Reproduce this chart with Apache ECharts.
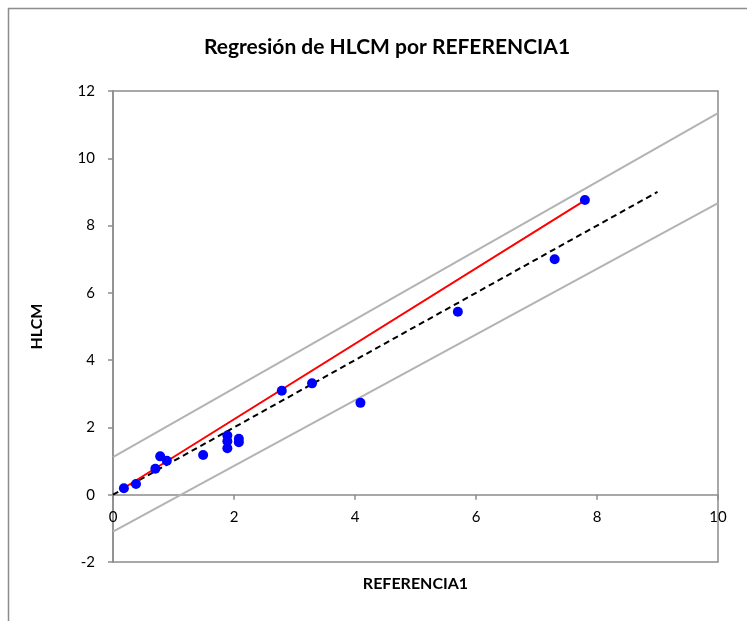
<!DOCTYPE html>
<html>
<head>
<meta charset="utf-8">
<script src="https://cdn.jsdelivr.net/npm/echarts@6/dist/echarts.min.js"></script>
<style>html,body{margin:0;padding:0;background:#fff;}#c{width:747px;height:621px;}</style>
</head>
<body>
<div id="c"></div>
<script>
var titleText = 'Regresión de HLCM por REFERENCIA1';
var xName = 'REFERENCIA1';
var yName = 'HLCM';
var obsX = [0.18,0.38,0.70,0.78,0.89,1.49,1.89,1.89,1.89,2.08,2.08,2.79,3.29,4.09,5.70,7.30,7.80];
var obsY = [0.19,0.32,0.77,1.14,1.01,1.18,1.76,1.59,1.38,1.66,1.56,3.09,3.31,2.73,5.44,7.00,8.76];
var fitX = [0.18, 7.80];
var fitY = [0.20, 8.75];
var idX = [0, 9];
var idY = [0, 9];
var upX = [0, 10];
var upY = [1.12, 11.34];
var loX = [0, 10];
var loY = [-1.10, 8.67];
var xTicks = [0,2,4,6,8,10];
var yTicks = [-2,0,2,4,6,8,10,12];

function pairs(a,b){ return a.map(function(v,i){ return [v,b[i]]; }); }
var FONT = 'Lato';
var chart = echarts.init(document.getElementById('c'));
chart.setOption({
  animation:false,
  backgroundColor:'#fff',
  title:{text:titleText,left:382,top:32,textAlign:'center',
    textStyle:{fontFamily:FONT,fontSize:21,fontWeight:'bold',color:'#000'}},
  graphic:[{type:'rect',shape:{x:8.5,y:8.5,width:800,height:700},
    style:{fill:'none',stroke:'#8c8c8c',lineWidth:1.5},silent:true}],
  grid:{left:113,top:91,right:29,bottom:59,show:true,borderColor:'#8c8c8c',borderWidth:1.5,
    containLabel:false,outerBoundsMode:'none'},
  xAxis:{type:'value',min:0,max:10,interval:2,
    name:xName,nameLocation:'middle',nameGap:14,nameMoveOverlap:false,
    nameTextStyle:{fontFamily:FONT,fontSize:16,fontWeight:'bold',color:'#000',verticalAlign:'top'},
    axisLine:{onZero:true,lineStyle:{color:'#8c8c8c',width:1.5}},
    axisTick:{show:true,length:5,lineStyle:{color:'#8c8c8c',width:1.5}},
    axisLabel:{fontFamily:FONT,fontSize:15,color:'#000',margin:-52,
      formatter:function(v){return xTicks.indexOf(v)>=0?String(v):'';}},
    splitLine:{show:false}},
  yAxis:{type:'value',min:-2,max:12,interval:2,
    name:yName,nameLocation:'middle',nameGap:68,nameRotate:90,
    nameTextStyle:{fontFamily:FONT,fontSize:16,fontWeight:'bold',color:'#000'},
    axisLine:{onZero:false,lineStyle:{color:'#8c8c8c',width:1.5}},
    axisTick:{show:true,length:5,lineStyle:{color:'#8c8c8c',width:1.5}},
    axisLabel:{fontFamily:FONT,fontSize:15,color:'#000',margin:18,
      formatter:function(v){return yTicks.indexOf(v)>=0?String(v):'';}},
    splitLine:{show:false}},
  series:[
    {type:'line',data:pairs(upX,upY),symbol:'none',lineStyle:{color:'#b3b3b3',width:2},z:2},
    {type:'line',data:pairs(loX,loY),symbol:'none',lineStyle:{color:'#b3b3b3',width:2},z:2},
    {type:'line',data:pairs(idX,idY),symbol:'none',lineStyle:{color:'#000',width:2,type:[6,4]},z:3},
    {type:'line',data:pairs(fitX,fitY),symbol:'none',lineStyle:{color:'#ff0000',width:2},z:4},
    {type:'scatter',data:pairs(obsX,obsY),symbol:'circle',symbolSize:10,itemStyle:{color:'#0000ff',opacity:1},z:5}
  ]
});
</script>
</body>
</html>
